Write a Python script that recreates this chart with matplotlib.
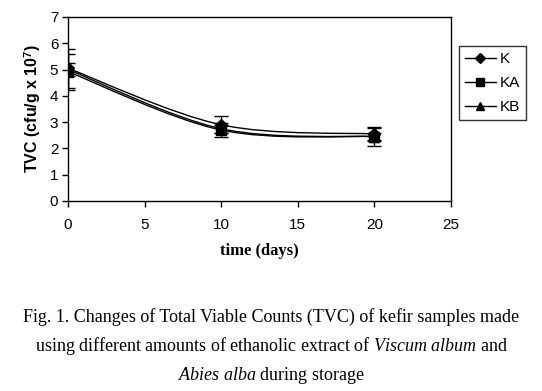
import numpy as np
import matplotlib.pyplot as plt
from matplotlib.path import Path
from matplotlib.patches import PathPatch

# data
days = [0, 10, 20]
K = [5.05, 2.90, 2.55]
KA = [4.92, 2.70, 2.45]
KB = [5.00, 2.75, 2.45]
K_err = [0.75, 0.33, 0.22]
KA_err = [0.68, 0.25, 0.35]
KB_err = [0.25, 0.15, 0.15]
names = ['K', 'KA', 'KB']
markers = ['D', 's', '^']

plt.rcParams['mathtext.fontset'] = 'custom'
plt.rcParams['mathtext.rm'] = 'Liberation Serif'
plt.rcParams['mathtext.it'] = 'Liberation Serif:italic'

fig = plt.figure(figsize=(5.42, 3.91), dpi=100)
ax = fig.add_axes([68 / 542, 1 - 201 / 391, 383 / 542, 184 / 391])


def smooth_path(x, y):
    # Excel-style smoothed line: cubic bezier through the points
    pts = np.column_stack([x, y]).astype(float)
    verts = [pts[0]]
    codes = [Path.MOVETO]
    n = len(pts)
    for i in range(n - 1):
        p0 = pts[max(i - 1, 0)]
        p1 = pts[i]
        p2 = pts[i + 1]
        p3 = pts[min(i + 2, n - 1)]
        verts += [p1 + (p2 - p0) / 6, p2 - (p3 - p1) / 6, p2]
        codes += [Path.CURVE4] * 3
    return Path(verts, codes)


for vals, err, name, m in zip([K, KA, KB], [K_err, KA_err, KB_err], names, markers):
    ms = 6 if m == 'D' else 7
    ax.add_patch(PathPatch(smooth_path(days, vals), fill=False, edgecolor='black', lw=1))
    ax.errorbar(days, vals, yerr=err, fmt='none', ecolor='black', elinewidth=1, capsize=5, capthick=1)
    ax.plot(days, vals, linestyle='none', marker=m, color='black', markersize=ms)
    # legend handle
    ax.plot([], [], color='black', lw=1, marker=m, markersize=ms - 1, label=name)

ax.set_xlim(0, 25)
ax.set_ylim(0, 7)
ax.set_xticks(range(0, 26, 5))
ax.set_yticks(range(0, 8))
ax.tick_params(direction='out', length=4, width=1, labelsize=11, pad=8)
ax.tick_params(axis='y', pad=3)
for lab in ax.get_xticklabels() + ax.get_yticklabels():
    lab.set_fontfamily('Liberation Sans')
for s in ax.spines.values():
    s.set_linewidth(1)

ax.set_ylabel('TVC (cfu/g x 10$^\\mathregular{7}$)', fontfamily='Liberation Sans', fontweight='bold', fontsize=11.5, labelpad=5)
ax.set_xlabel('time (days)', fontfamily='Liberation Serif', fontweight='bold', fontsize=12, labelpad=8)

leg = ax.legend(loc='upper left', bbox_to_anchor=(459 / 542, 1 - 46 / 391), bbox_transform=fig.transFigure,
                borderaxespad=0, frameon=True, fancybox=False, edgecolor='black', handlelength=2.0,
                handletextpad=0.25, borderpad=0.4, labelspacing=0.65, prop={'family': 'Liberation Sans', 'size': 11})
leg.get_frame().set_linewidth(1)

cap = dict(ha='center', va='center', fontsize=13, fontfamily='Liberation Serif')
fig.text(0.5, 1 - 317 / 391, 'Fig. 1. Changes of Total Viable Counts (TVC) of kefir samples made', **cap)
fig.text(0.5, 1 - 346 / 391, 'using different amounts of ethanolic extract of $\\mathit{Viscum\\ album}$ and', **cap)
fig.text(0.5, 1 - 375 / 391, '$\\mathit{Abies\\ alba}$ during storage', **cap)

fig.savefig('out.png', dpi=100)
